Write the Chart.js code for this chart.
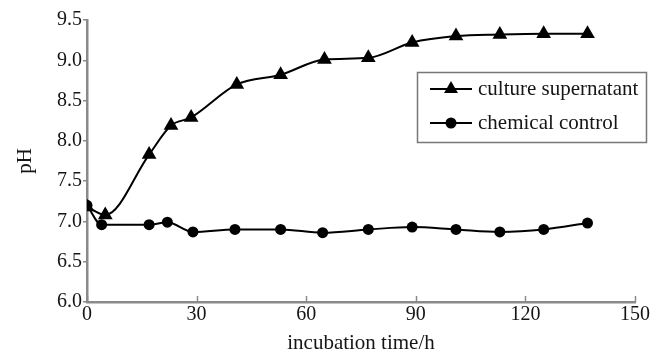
<!DOCTYPE html>
<html>
<head>
<meta charset="utf-8">
<script src="https://cdn.jsdelivr.net/npm/chart.js@4"></script>
<style>
html,body{margin:0;padding:0;background:#fff;}
#wrap{width:654px;height:350px;position:relative;}
</style>
</head>
<body>
<div id="wrap"><canvas id="c" width="654" height="350"></canvas></div>
<script>
const seriesNames = ["culture supernatant", "chemical control"];
const timeCulture = [0, 5, 17, 23, 28.5, 41, 53, 65, 77, 89, 101, 113, 125, 137];
const phCulture   = [7.18, 7.08, 7.83, 8.19, 8.29, 8.70, 8.82, 9.01, 9.03, 9.22, 9.30, 9.32, 9.33, 9.33];
const timeControl = [0, 4, 17, 22, 29, 40.5, 53, 64.5, 77, 89, 101, 113, 125, 137];
const phControl   = [7.20, 6.96, 6.96, 6.99, 6.87, 6.90, 6.90, 6.86, 6.90, 6.93, 6.90, 6.87, 6.90, 6.98];
const xTicks = [0, 30, 60, 90, 120, 150];
const yTicks = [6.0, 6.5, 7.0, 7.5, 8.0, 8.5, 9.0, 9.5];
const xTitle = "incubation time/h";
const yTitle = "pH";

const FONT = "'Liberation Serif', 'Times New Roman', serif";
const AXIS = "#8a8a8a";
const TXT = "#151515";

const toXY = (xs, ys) => xs.map((x, i) => ({x: x, y: ys[i]}));

const innerXTicks = {
  id: 'innerXTicks',
  afterDraw(chart) {
    const c = chart.ctx, xs = chart.scales.x, a = chart.chartArea;
    c.save();
    c.strokeStyle = AXIS; c.lineWidth = 1.5;
    xs.ticks.forEach((t, i) => {
      const px = Math.round(xs.getPixelForTick(i)) + 0.5;
      c.beginPath(); c.moveTo(px, a.bottom); c.lineTo(px, a.bottom - 6); c.stroke();
    });
    c.restore();
  }
};

const boxLegend = {
  id: 'boxLegend',
  afterDraw(chart) {
    const c = chart.ctx;
    const x0 = 417, y0 = 72, w = 229, h = 70;
    c.save();
    c.fillStyle = '#fff';
    c.fillRect(x0, y0, w, h);
    c.strokeStyle = '#777'; c.lineWidth = 1.5;
    c.strokeRect(x0 + 0.5, y0 + 0.5, w, h);
    const rows = [89, 123];
    chart.data.datasets.forEach((ds, i) => {
      const y = rows[i];
      c.strokeStyle = '#000'; c.lineWidth = 2;
      c.beginPath(); c.moveTo(430, y); c.lineTo(472, y); c.stroke();
      c.fillStyle = '#000';
      if (ds.pointStyle === 'triangle') {
        const r = 8;
        c.beginPath();
        c.moveTo(451, y - r);
        c.lineTo(451 + r * 0.866, y + r * 0.5);
        c.lineTo(451 - r * 0.866, y + r * 0.5);
        c.closePath(); c.fill();
      } else {
        c.beginPath(); c.arc(451, y, 5.5, 0, Math.PI * 2); c.fill();
      }
      c.font = "21px " + FONT;
      c.fillStyle = TXT;
      c.textBaseline = 'middle'; c.textAlign = 'left';
      c.fillText(ds.label, 478, y);
    });
    c.restore();
  }
};

new Chart(document.getElementById('c'), {
  type: 'line',
  data: {
    datasets: [
      {
        label: seriesNames[0],
        data: toXY(timeCulture, phCulture),
        borderColor: '#000', backgroundColor: '#000',
        borderWidth: 2, pointStyle: 'triangle', pointRadius: 8.5,
        pointBorderWidth: 0, cubicInterpolationMode: 'monotone', order: 2
      },
      {
        label: seriesNames[1],
        data: toXY(timeControl, phControl),
        borderColor: '#000', backgroundColor: '#000',
        borderWidth: 2, pointStyle: 'circle', pointRadius: 5.5,
        pointBorderWidth: 0, cubicInterpolationMode: 'monotone', order: 1
      }
    ]
  },
  options: {
    responsive: false,
    animation: false,
    layout: { padding: { top: 20, right: 19, left: 0, bottom: 0 } },
    plugins: { legend: { display: false }, tooltip: { enabled: false } },
    scales: {
      x: {
        type: 'linear', min: 0, max: 150,
        afterBuildTicks: s => { s.ticks = xTicks.map(v => ({value: v})); },
        afterFit: s => { s.height = 48; },
        grid: { display: false, drawTicks: false, tickLength: 0 },
        border: { display: true, color: AXIS, width: 2.5 },
        ticks: { color: TXT, padding: 1, font: { family: FONT, size: 20 }, maxRotation: 0 },
        title: { display: true, text: xTitle, color: TXT,
                 font: { family: FONT, size: 21, lineHeight: 1 }, padding: { top: 0, bottom: -4 } }
      },
      y: {
        min: 6.0, max: 9.5,
        afterBuildTicks: s => { s.ticks = yTicks.map(v => ({value: v})); },
        afterFit: s => { s.width = 87; },
        grid: { display: true, drawOnChartArea: false, tickLength: 4, color: AXIS, lineWidth: 1.5 },
        border: { display: true, color: AXIS, width: 2.5 },
        ticks: { color: TXT, padding: 1, font: { family: FONT, size: 20 },
                 callback: v => Number(v).toFixed(1) },
        title: { display: true, text: yTitle, color: TXT,
                 font: { family: FONT, size: 21, lineHeight: 1 }, padding: { top: 15, bottom: 0 } }
      }
    }
  },
  plugins: [innerXTicks, boxLegend]
});
</script>
</body>
</html>
